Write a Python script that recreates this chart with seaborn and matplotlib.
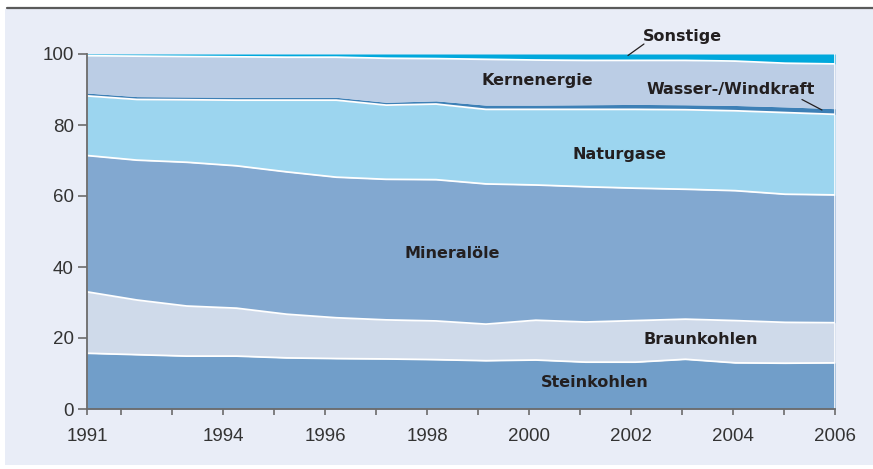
import numpy as np
import pandas as pd
import matplotlib
matplotlib.use("Agg")
import matplotlib.pyplot as plt
from matplotlib.patches import Rectangle
from matplotlib.lines import Line2D
from matplotlib import font_manager
import seaborn as sns

# ---------------- data (shares of primary energy consumption, %) ----------------
years = [1991, 1992, 1993, 1994, 1995, 1996, 1997, 1998, 1999, 2000,
         2001, 2002, 2003, 2004, 2005, 2006]
steinkohlen = [15.7, 15.3, 14.9, 14.9, 14.4, 14.2, 14.1, 13.9, 13.6, 13.8,
               13.2, 13.2, 14.0, 13.0, 12.9, 13.0]
braunkohlen = [17.3, 15.4, 14.1, 13.5, 12.3, 11.5, 11.0, 10.9, 10.3, 11.2,
               11.3, 11.7, 11.3, 11.9, 11.5, 11.3]
mineraloele = [38.4, 39.4, 40.5, 40.1, 40.1, 39.6, 39.6, 39.8, 39.5, 38.1,
               38.1, 37.3, 36.6, 36.6, 36.1, 36.0]
naturgase = [16.8, 17.1, 17.6, 18.5, 20.2, 21.7, 20.9, 21.3, 21.0, 21.3,
             21.8, 22.2, 22.4, 22.5, 23.0, 22.7]
wasser_wind = [0.8, 0.8, 0.8, 0.8, 0.8, 0.8, 0.8, 0.9, 1.2, 1.2,
               1.3, 1.4, 1.4, 1.5, 1.6, 1.6]
kernenergie = [10.5, 11.4, 11.4, 11.4, 11.3, 11.3, 12.4, 11.9, 12.9, 12.7,
               12.5, 12.4, 12.5, 12.5, 12.3, 12.6]
sonstige = [0.5, 0.6, 0.7, 0.8, 0.9, 0.9, 1.2, 1.3, 1.5, 1.7,
            1.8, 1.8, 1.8, 2.0, 2.6, 2.8]

series_names = ["Steinkohlen", "Braunkohlen", "Mineralöle", "Naturgase",
                "Wasser-/Windkraft", "Kernenergie", "Sonstige"]
tick_years = list(range(1991, 2007))
tick_labels = ["1991", "", "", "1994", "", "1996", "", "1998", "", "2000",
               "", "2002", "", "2004", "", "2006"]
y_ticks = [0, 20, 40, 60, 80, 100]

colors = ["#719ec9", "#cfdaea", "#82a8d0", "#9cd5ef", "#3d80b6", "#bbcde5", "#00a8dc"]
bg = "#e9edf7"
txt = "#231f20"

# ---------------- fonts ----------------
sns.set_theme(style="ticks")
avail = {f.name for f in font_manager.fontManager.ttflist}
tick_font = "Liberation Sans" if "Liberation Sans" in avail else "DejaVu Sans"
plt.rcParams["font.family"] = [tick_font, "DejaVu Sans"]

# ---------------- figure ----------------
fig = plt.figure(figsize=(8.73, 4.69), dpi=100)
fig.patch.set_facecolor("white")
fig.patches.append(Rectangle((5 / 873, 4 / 469), 1 - 5 / 873, 456 / 469,
                             transform=fig.transFigure, facecolor=bg,
                             edgecolor="none", zorder=-10))
fig.lines.append(Line2D([7 / 873, 1.0], [1 - 8.5 / 469, 1 - 8.5 / 469],
                        transform=fig.transFigure, color="#5a5a5a", lw=1.6))

ax = fig.add_axes([87 / 873, 60 / 469, 748 / 873, 355 / 469])
ax.set_facecolor("none")

df = pd.DataFrame({"year": years, "Steinkohlen": steinkohlen,
                   "Braunkohlen": braunkohlen, "Mineralöle": mineraloele,
                   "Naturgase": naturgase, "Wasser-/Windkraft": wasser_wind,
                   "Kernenergie": kernenergie, "Sonstige": sonstige})
cum = df[series_names].cumsum(axis=1)
lower = np.zeros(len(years))
for name, col in zip(series_names, colors):
    upper = cum[name].to_numpy()
    ax.fill_between(df["year"], lower, upper, color=col, lw=0, zorder=1)
    lower = upper

# white separators between layers
for name in ["Steinkohlen", "Braunkohlen", "Mineralöle", "Naturgase", "Kernenergie"]:
    sns.lineplot(x=df["year"], y=cum[name], ax=ax, color="white", lw=1.3,
                 zorder=3, legend=False)
ax.axvline(2006, color="white", lw=1.2, zorder=3)

ax.set_xlim(1991, 2006)
ax.set_ylim(0, 100)
ax.set_xlabel("")
ax.set_ylabel("")

# tick layout as in the reference (ticks slightly wider-spaced than data years)
tick_pos = [1991] + [2006 - (2006 - y) * 1.0227 for y in tick_years[1:]]
ax.set_xticks(tick_pos)
ax.set_xticklabels(tick_labels)
ax.set_yticks(y_ticks)
ax.set_yticklabels([str(v) for v in y_ticks])

for s in ["top", "right"]:
    ax.spines[s].set_visible(False)
for s in ["left", "bottom"]:
    ax.spines[s].set_color("#6b6b6b")
    ax.spines[s].set_linewidth(1.3)
    ax.spines[s].set_zorder(5)
ax.tick_params(axis="y", direction="out", length=6.5, width=1.2, color="#6b6b6b",
               labelsize=13.5, labelcolor="#333333", pad=3)
ax.tick_params(axis="x", direction="out", length=4.5, width=1.2, color="#6b6b6b",
               labelsize=13.5, labelcolor="#333333", pad=9)

# ---------------- labels ----------------
def px2data(px, py):
    return 1991 + (px - 87) / 49.87, (409 - py) / 3.55

lab_font = dict(fontsize=11.5, fontweight="bold", color=txt,
                family=["DejaVu Sans"], ha="center", va="center", zorder=6)
labels = [("Sonstige", 682, 37), ("Kernenergie", 537, 81),
          ("Wasser-/Windkraft", 731, 90), ("Naturgase", 620, 155),
          ("Mineralöle", 452, 254), ("Braunkohlen", 701, 339),
          ("Steinkohlen", 595, 382)]
for t, px, py in labels:
    x, y = px2data(px, py)
    ax.text(x, y, t, clip_on=False, **lab_font)

for (a, b) in [((628, 55.5), (644, 44)), ((802, 99.5), (822, 110))]:
    x0, y0 = px2data(*a)
    x1, y1 = px2data(*b)
    ax.plot([x0, x1], [y0, y1], color=txt, lw=0.9, zorder=6, clip_on=False)

fig.savefig("out.png", dpi=100)
